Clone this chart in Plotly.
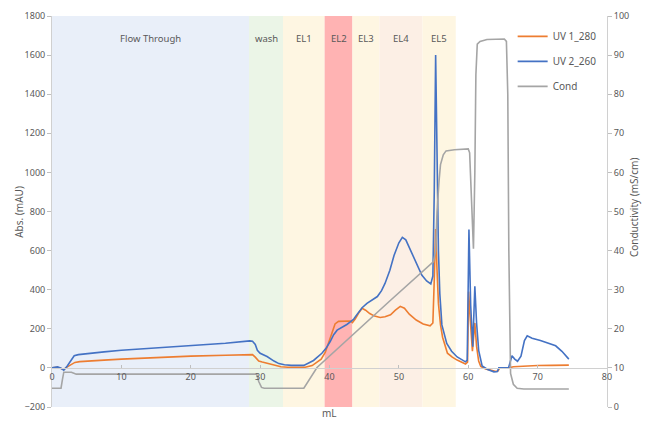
import plotly.graph_objects as go

# ---------------- data ----------------
uv1_ml = [0, 0.8, 1.3, 1.7, 2.2, 2.8, 3.3, 4.0, 5.0, 7.5, 10, 15, 20, 25, 28.5, 28.9, 29.3, 29.8,
          30.3, 31, 32, 33, 34, 35, 36.5, 37.5, 38.2, 38.8, 39.4, 40.1, 40.8, 41.3, 42, 42.5, 43,
          43.3, 43.7, 44.2, 44.7, 45.2, 45.8, 46.5, 47.3, 48, 48.8, 49.5, 50.2, 50.8, 51.5, 52.5,
          53.5, 54.5, 54.9, 55.1, 55.3, 55.5, 55.7, 56.0, 56.3, 57, 57.7, 58.4, 59.0, 59.6, 59.9,
          60.05, 60.3, 60.6, 60.95, 61.2, 61.5, 61.8, 62.5, 63.2, 64, 64.3, 64.5, 65, 65.8, 66.5,
          68, 70, 72, 74.5]
uv1_abs = [0, 3, -3, -8, 5, 20, 28, 32, 35, 40, 45, 53, 60, 65, 70, 68, 55, 35,
           30, 24, 13, 6, 3, 2, 3, 12, 28, 45, 80, 155, 225, 238, 240, 242, 240,
           232, 250, 280, 305, 295, 278, 265, 258, 262, 272, 295, 315, 305, 275, 245,
           225, 215, 230, 450, 710, 500, 330, 220, 157, 75, 55, 40, 28, 20, 30,
           390, 240, 85, 230, 110, 35, 8, -5, -12, -18, -15, -2, 0, 0, 6,
           10, 12, 13, 14]

uv2_ml = [0, 0.8, 1.3, 1.7, 2.2, 2.8, 3.2, 3.8, 5, 7.5, 10, 15, 20, 25, 28.5, 28.9, 29.3, 29.6,
          30, 31, 32, 32.7, 33.5, 34.5, 36.3, 37.7, 38.9, 39.5, 40.1, 40.6, 41.1, 41.6, 42, 42.5,
          43, 43.5, 44, 44.7, 45.4, 46.2, 46.9, 47.5, 48, 48.7, 49.3, 50, 50.5, 51, 51.7, 52.5,
          53.3, 54, 54.6, 54.9, 55.1, 55.3, 55.5, 55.7, 55.9, 56.2, 56.9, 57.6, 58.4, 59.0, 59.6,
          59.85, 60.1, 60.35, 60.65, 60.95, 61.2, 61.5, 62, 62.8, 63.7, 64.2, 64.4, 65.8, 66.3,
          66.7, 67.1, 67.6, 68.1, 68.5, 69.2, 70.4, 71.5, 72.6, 73.5, 74.5]
uv2_abs = [0, 5, -2, -12, 10, 45, 62, 68, 73, 82, 90, 101, 112, 126, 138, 136, 120, 90,
           75, 58, 35, 22, 16, 13, 13, 38, 75, 100, 135, 170, 193, 203, 210, 222,
           235, 250, 275, 308, 330, 348, 365, 395, 432, 500, 575, 640, 668, 655, 600, 530,
           475, 445, 430, 470, 900, 1600, 1100, 600, 380, 220, 125, 85, 56, 42, 31,
           40, 708, 320, 108, 418, 230, 90, 10, -8, -20, -18, 0, 0, 62,
           45, 34, 60, 140, 164, 152, 140, 128, 113, 85, 45]

cond_ml = [0, 1.3, 1.5, 1.7, 2.8, 3.5, 29.5, 29.8, 30.2, 30.6, 36.3, 36.8, 37.5, 38.2, 48.8,
           55.0, 55.3, 55.5, 55.8, 56.0, 56.4, 56.8, 58, 60.0, 60.2, 60.4, 60.75, 60.95, 61.1,
           61.3, 61.7, 62.7, 65.2, 65.5, 65.7, 65.85, 66.1, 66.5, 67.05, 68, 74.5]
cond_val = [4.8, 4.8, 7, 8.9, 8.9, 8.4, 8.4, 6.5, 5.0, 4.8, 4.8, 6.2, 8.2, 10.1, 27.3,
            37.2, 40, 50, 58, 62, 64.5, 65.5, 65.8, 66, 65, 55, 40.5, 60, 85,
            92.8, 93.5, 94, 94.1, 93.5, 80, 40, 8.6, 5.8, 4.8, 4.6, 4.6]

band_names = ["Flow Through", "wash", "EL1", "EL2", "EL3", "EL4", "EL5"]
band_start = [0, 28.4, 33.3, 39.3, 43.3, 47.2, 53.4]
band_end = [28.4, 33.3, 39.3, 43.3, 47.2, 53.4, 58.2]
band_colors = ["#e9eff9", "#ebf5e7", "#fef6e2", "#ffb3b3", "#fef6e2", "#fcefe5", "#fef6e2"]

# ---------------- figure ----------------
TXT = "#595959"
FONT = "Noto Sans"
fig = go.Figure()

fig.add_trace(go.Scatter(x=uv1_ml, y=uv1_abs, mode="lines", name="UV 1_280",
                         line=dict(color="#ed7d31", width=1.6), legendgroup="a"))
fig.add_trace(go.Scatter(x=uv2_ml, y=uv2_abs, mode="lines", name="UV 2_260",
                         line=dict(color="#4472c4", width=1.6), legendgroup="b"))
fig.add_trace(go.Scatter(x=cond_ml, y=cond_val, mode="lines", name="Cond", yaxis="y2",
                         line=dict(color="#a5a5a5", width=1.6), legendgroup="c"))

shapes = []
annotations = []
for n, s, e, c in zip(band_names, band_start, band_end, band_colors):
    shapes.append(dict(type="rect", xref="x", yref="paper", x0=s, x1=e, y0=0, y1=1,
                       fillcolor=c, line=dict(width=0), layer="below"))
    annotations.append(dict(x=(s + e) / 2, y=0.964, xref="x", yref="paper", text=n,
                            showarrow=False, font=dict(size=9.5, color=TXT, family=FONT)))

annotations.append(dict(x=0.5, y=-0.016, xref="paper", yref="paper", text="mL", showarrow=False,
                        yanchor="middle", font=dict(size=10, color=TXT, family=FONT)))
annotations.append(dict(x=-0.077, y=0.5, xref="paper", yref="paper", text="Abs. (mAU)",
                        showarrow=False, textangle=-90, font=dict(size=10, color=TXT, family=FONT)))
annotations.append(dict(x=1.064, y=0.51, xref="paper", yref="paper", text="Conductivity (mS/cm)",
                        showarrow=False, textangle=-90, font=dict(size=10, color=TXT, family=FONT)))

fig.update_layout(
    width=645, height=423,
    margin=dict(l=52, r=38, t=16, b=16, autoexpand=False),
    paper_bgcolor="white", plot_bgcolor="white",
    font=dict(family=FONT, size=9, color=TXT),
    shapes=shapes, annotations=annotations,
    showlegend=True,
    legend=dict(x=0.83, y=0.985, xanchor="left", yanchor="top", bgcolor="rgba(0,0,0,0)",
                font=dict(size=10, color=TXT, family=FONT), traceorder="grouped",
                tracegroupgap=6, itemwidth=30),
    xaxis=dict(range=[0, 80], dtick=10, tick0=0, anchor="free", position=0.1,
               showline=True, linecolor="#d0d0d0", linewidth=1, ticks="inside", ticklen=3,
               tickcolor="#bfbfbf", showgrid=False, zeroline=False, automargin=False,
               tickfont=dict(size=9, color=TXT)),
    yaxis=dict(range=[-200, 1800], dtick=200, showline=True, linecolor="#d0d0d0",
               ticks="outside", ticklen=4, tickcolor="#bfbfbf", showgrid=False, zeroline=False,
               automargin=False, tickfont=dict(size=9, color=TXT)),
    yaxis2=dict(range=[0, 100], dtick=10, overlaying="y", side="right", showline=True,
                linecolor="#d0d0d0", ticks="outside", ticklen=4, tickcolor="#bfbfbf",
                showgrid=False, zeroline=False, automargin=False,
                tickfont=dict(size=9, color=TXT)),
)

fig.write_html("out.html", config={"displayModeBar": False},
               post_script="document.body.style.margin='0px';")
